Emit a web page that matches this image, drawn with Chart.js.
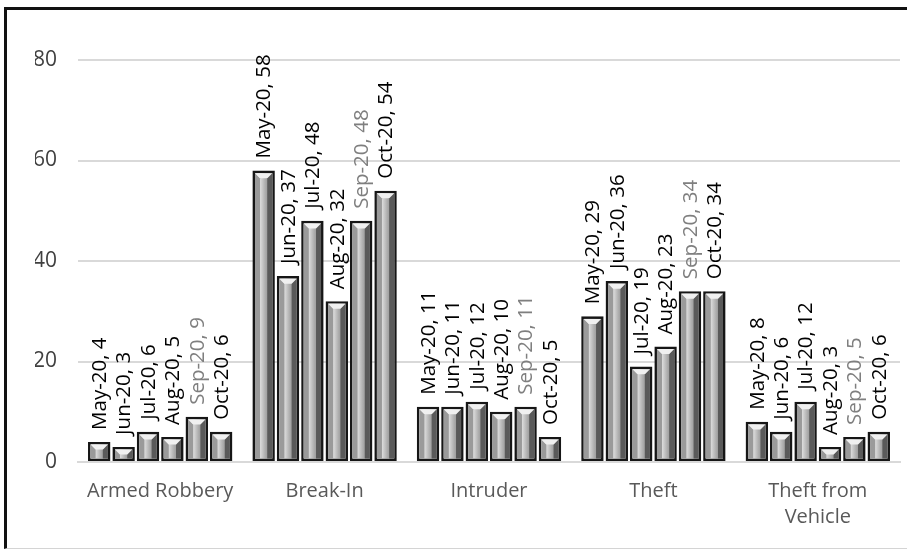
<!DOCTYPE html>
<html><head><meta charset="utf-8">
<script src="https://cdn.jsdelivr.net/npm/chart.js@4.4.1/dist/chart.umd.min.js"></script>
<style>
html,body{margin:0;padding:0;background:#fff;width:907px;height:551px;overflow:hidden;}
#frame{position:absolute;left:4px;top:7px;width:920px;height:538px;border-top:3px solid #111;border-left:3px solid #111;border-bottom:1px solid #d4d4d4;}
#c{position:absolute;left:0;top:0;}
</style></head><body>
<div id="frame"></div>
<canvas id="c" width="907" height="551"></canvas>
<script>
// ---- data ----
const categories = ['Armed Robbery', 'Break-In', 'Intruder', 'Theft', ['Theft from', 'Vehicle']];
const seriesNames = ['May-20', 'Jun-20', 'Jul-20', 'Aug-20', 'Sep-20', 'Oct-20'];
const may20 = [4, 58, 11, 29, 8];
const jun20 = [3, 37, 11, 36, 6];
const jul20 = [6, 48, 12, 19, 12];
const aug20 = [5, 32, 10, 23, 3];
const sep20 = [9, 48, 11, 34, 5];
const oct20 = [6, 54, 5, 34, 6];
const yMin = 0, yMax = 80, yStep = 20;

// ---- styles ----
const seriesValues = [may20, jun20, jul20, aug20, sep20, oct20];
const labelColors = ['#000', '#000', '#000', '#000', '#7f7f7f', '#000'];
const FONT = "'Open Sans', sans-serif";
Chart.defaults.font.family = FONT;

const bevelPlugin = {
  id: 'bevel',
  afterDatasetDraw(chart, args) {
    const ctx = chart.ctx;
    const meta = args.meta;
    ctx.save();
    meta.data.forEach(el => {
      const p = el.getProps(['x', 'y', 'base', 'width'], true);
      const bw = 2.6;
      const L = p.x - p.width / 2 + bw, R = p.x + p.width / 2 - bw;
      const T = Math.min(p.y, p.base) + bw, B = Math.max(p.y, p.base) - bw;
      const w = R - L, h = B - T;
      if (w <= 0 || h <= 0) return;
      const b = Math.min(5, w / 3, h);
      const g = ctx.createLinearGradient(L, 0, R, 0);
      g.addColorStop(0, '#bdbdbd');
      g.addColorStop(0.3, '#dcdcdc');
      g.addColorStop(0.6, '#adadad');
      g.addColorStop(1, '#7a7a7a');
      ctx.fillStyle = g;
      ctx.fillRect(L, T, w, h);
      ctx.fillStyle = '#9a9a9a';
      ctx.beginPath(); ctx.moveTo(L, T); ctx.lineTo(L + b, T + b); ctx.lineTo(L + b, B); ctx.lineTo(L, B); ctx.closePath(); ctx.fill();
      ctx.fillStyle = '#5a5a5a';
      ctx.beginPath(); ctx.moveTo(R, T); ctx.lineTo(R - b, T + b); ctx.lineTo(R - b, B); ctx.lineTo(R, B); ctx.closePath(); ctx.fill();
      ctx.fillStyle = '#f0f0f0';
      ctx.beginPath(); ctx.moveTo(L, T); ctx.lineTo(R, T); ctx.lineTo(R - b, T + b); ctx.lineTo(L + b, T + b); ctx.closePath(); ctx.fill();
    });
    ctx.restore();
  }
};

const labelPlugin = {
  id: 'valueLabels',
  afterDatasetsDraw(chart) {
    const ctx = chart.ctx;
    chart.data.datasets.forEach((ds, i) => {
      const meta = chart.getDatasetMeta(i);
      meta.data.forEach((el, j) => {
        const p = el.getProps(['x', 'y'], true);
        ctx.save();
        ctx.translate(p.x + 1, p.y - 12);
        ctx.rotate(-Math.PI / 2);
        ctx.font = "20.5px " + FONT;
        ctx.fillStyle = labelColors[i];
        ctx.textAlign = 'left';
        ctx.textBaseline = 'middle';
        ctx.fillText(ds.label + ', ' + ds.data[j], 0, 0);
        ctx.restore();
      });
    });
  }
};

new Chart(document.getElementById('c'), {
  type: 'bar',
  data: {
    labels: categories,
    datasets: seriesNames.map((name, i) => ({
      label: name,
      data: seriesValues[i],
      backgroundColor: '#a8a8a8',
      borderColor: '#161616',
      borderWidth: 2.6,
      borderSkipped: false,
      categoryPercentage: 0.89,
      barPercentage: 0.92
    }))
  },
  options: {
    responsive: false,
    animation: false,
    layout: { padding: { left: 35, top: 60, right: 7, bottom: 19 } },
    plugins: { legend: { display: false }, tooltip: { enabled: false }, title: { display: false } },
    scales: {
      x: {
        grid: { display: false, drawTicks: false },
        border: { display: true, color: '#d9d9d9', width: 2 },
        ticks: { color: '#595959', font: { size: 20, lineHeight: 1.3 }, padding: 16, maxRotation: 0, autoSkip: false },
        afterFit(scale) { scale.height = 70; scale.paddingLeft = 0; scale.paddingRight = 0; }
      },
      y: {
        min: yMin, max: yMax,
        grid: { color: '#d9d9d9', lineWidth: 2, drawTicks: false },
        border: { display: false },
        ticks: { stepSize: yStep, color: '#404040', font: { size: 21 }, padding: 21 },
        afterFit(scale) { scale.width = 43; scale.paddingTop = 0; scale.paddingBottom = 0; }
      }
    }
  },
  plugins: [bevelPlugin, labelPlugin]
});
</script>
</body></html>
